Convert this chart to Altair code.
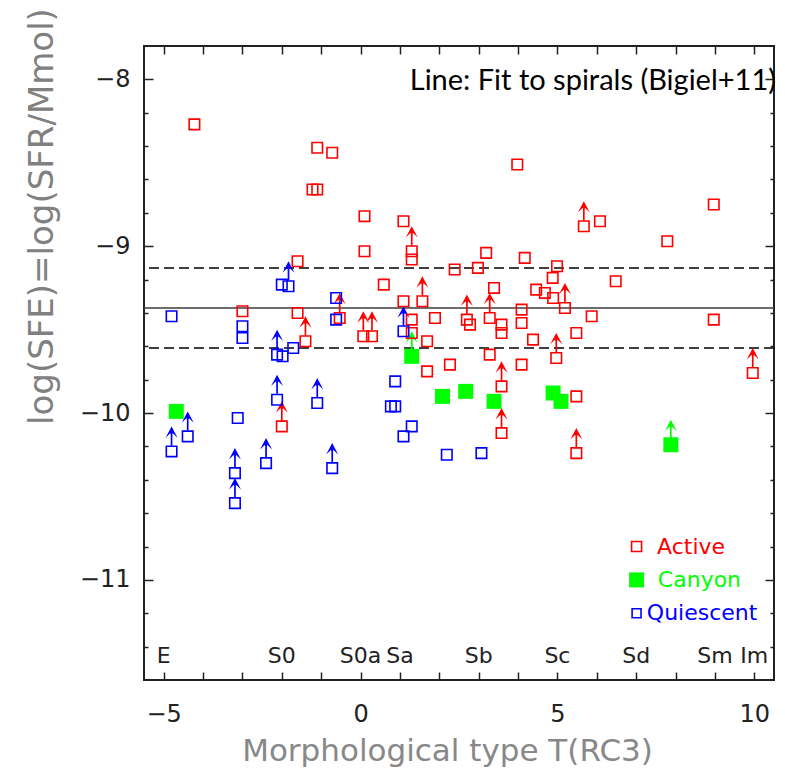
import altair as alt
import pandas as pd

# ---- data ----
act_x = [-4.22, -1.10, -0.72, -1.22, -1.10, 0.10, 1.09, 1.30, 1.30, 0.10, -1.60, 2.39, 0.59, 1.57,
         1.09, -3.00, -1.60, -0.53, 0.07, 0.29, -1.40, 1.89, 1.30, 1.30, 1.69, 2.70, 2.78, 1.69,
         2.27, -2.00, 3.98, 5.67, 6.08, 8.97, 7.79, 3.19, 4.17, 2.98, 4.99, 4.88, 6.48, 3.39,
         4.46, 4.68, 4.89, 5.19, 3.28, 4.09, 4.09, 3.58, 3.58, 5.87, 8.97, 4.38, 5.48, 4.97,
         3.28, 9.96, 4.09, 3.58, 3.58, 5.48, 5.48]
act_y = [-8.27, -8.41, -8.44, -8.66, -8.66, -8.82, -8.85, -9.03, -9.08, -9.03, -9.09, -9.14, -9.23, -9.33,
         -9.33, -9.39, -9.40, -9.43, -9.54, -9.54, -9.57, -9.43, -9.44, -9.52, -9.57, -9.44, -9.47, -9.75,
         -9.71, -10.08, -8.51, -8.88, -8.85, -8.75, -8.97, -9.04, -9.07, -9.13, -9.12, -9.19, -9.21, -9.25,
         -9.26, -9.28, -9.31, -9.37, -9.43, -9.38, -9.46, -9.47, -9.52, -9.42, -9.44, -9.56, -9.52, -9.67,
         -9.65, -9.76, -9.71, -9.84, -10.12, -9.90, -10.24]
act_arrow = [0, 0, 0, 0, 0, 0, 0, 1, 0, 0, 0, 0, 0, 1,
             0, 0, 0, 1, 1, 1, 1, 0, 0, 0, 0, 1, 0, 0,
             0, 1, 0, 1, 0, 0, 0, 0, 0, 0, 0, 0, 0, 0,
             0, 0, 0, 1, 1, 0, 0, 0, 0, 0, 0, 0, 0, 1,
             0, 1, 0, 1, 1, 0, 1]

can_x = [-4.68, 1.30, 2.08, 2.67, 3.39, 4.89, 5.09, 7.88]
can_y = [-9.99, -9.66, -9.90, -9.87, -9.93, -9.88, -9.93, -10.19]
can_arrow = [0, 1, 0, 0, 0, 0, 0, 1]

qui_x = [-4.80, -3.00, -3.00, -2.00, -1.83, -2.12, -1.98, -1.71, -0.62, -0.62, 1.09, -4.80, -4.39,
         -3.12, -3.19, -3.19, -2.40, -2.12, -1.10, -0.72, 0.88, 0.77, 0.88, 1.30, 1.09, 2.19, 3.07]
qui_y = [-9.42, -9.48, -9.55, -9.23, -9.24, -9.65, -9.66, -9.61, -9.31, -9.44, -9.51, -10.23, -10.14,
         -10.03, -10.36, -10.54, -10.30, -9.92, -9.94, -10.33, -9.81, -9.96, -9.96, -10.08, -10.14, -10.25, -10.24]
qui_arrow = [0, 0, 0, 0, 1, 1, 0, 0, 0, 0, 1, 1, 1,
             0, 1, 1, 1, 1, 1, 1, 0, 0, 0, 0, 0, 0, 0]

categories = ["Active", "Canyon", "Quiescent"]
cat_colors = ["#ff0000", "#00ff00", "#0000ff"]

type_names = ["E", "S0", "S0a", "Sa", "Sb", "Sc", "Sd", "Sm", "Im"]
type_T = [-5, -2, 0, 1, 3, 5, 7, 9, 10]

fit_y = [-9.37]
fit_band_y = [-9.13, -9.61]

x_ticks = list(range(-5, 11))
y_major = [-8, -9, -10, -11]
y_minor = [-8.2, -8.4, -8.6, -8.8, -9.2, -9.4, -9.6, -9.8, -10.2, -10.4, -10.6, -10.8, -11.2, -11.4]

annotation = ["Line: Fit to spirals (Bigiel+11)"]
ann_x = [10.55]
ann_y = [-8.064]

leg_y = [-10.80, -11.00, -11.20]
leg_sym_x = [7.01, 7.01, 7.01]
leg_text_x = [7.53, 7.55, 7.27]

# ---- tables ----
rows = []
for c, xs_, ys_, ar in [("Active", act_x, act_y, act_arrow),
                        ("Canyon", can_x, can_y, can_arrow),
                        ("Quiescent", qui_x, qui_y, qui_arrow)]:
    for a, b, f in zip(xs_, ys_, ar):
        rows.append({"cat": c, "x": a, "y": b, "arrow": f})
df = pd.DataFrame(rows)

types_df = pd.DataFrame({"name": type_names, "T": type_T, "y": [-11.5] * len(type_T)})
fit_df = pd.DataFrame({"y": fit_y})
band_df = pd.DataFrame({"y": fit_band_y})
ann_df = pd.DataFrame({"t": annotation, "x": ann_x, "y": ann_y})
leg_df = pd.DataFrame({"cat": categories, "sx": leg_sym_x, "tx": leg_text_x, "y": leg_y})

XS = alt.Scale(domain=[-5.5, 10.5], nice=False, zero=False)
YS = alt.Scale(domain=[-11.6, -7.8], nice=False, zero=False)
CS = alt.Scale(domain=categories, range=cat_colors)
FONT = "DejaVu Sans"
AX = "#222222"

def xn(field="x"):
    return alt.X(f"{field}:Q", scale=XS, axis=None)

def yn(field="y"):
    return alt.Y(f"{field}:Q", scale=YS, axis=None)

col = alt.Color("cat:N", scale=CS, legend=None)

x_bottom = alt.Axis(orient="bottom", values=x_ticks, offset=-8, tickSize=8, domain=False, grid=False,
                    tickColor=AX, tickWidth=1.5,
                    labelExpr="datum.value % 5 === 0 ? datum.label : ''", labelOverlap=False,
                    labelFlush=False, labelBound=False,
                    labelFont=FONT, labelFontSize=24, labelColor=AX, labelBaseline="alphabetic",
                    labelPadding=41,
                    title="Morphological type T(RC3)", titleFont=FONT, titleFontSize=31,
                    titleFontWeight="normal", titleColor="#888888", titleX=303, titleY=88,
                    titleAlign="center", titleBaseline="alphabetic")
x_top = alt.Axis(orient="top", values=x_ticks, offset=-8, tickSize=8, domain=False, grid=False,
                 tickColor=AX, tickWidth=1.5, labels=False, title=None)
y_left = alt.Axis(orient="left", values=y_major, offset=-9, tickSize=9, domain=False, grid=False,
                  tickColor=AX, tickWidth=1.5, labelFont=FONT, labelFontSize=24, labelColor=AX,
                  labelPadding=14, labelBaseline="middle",
                  title="log(SFE)=log(SFR/Mmol)", titleFont=FONT, titleFontSize=34,
                  titleFontWeight="normal", titleColor="#808080", titleAngle=270,
                  titleX=-111, titleY=170, titleAlign="center", titleBaseline="middle")
y_left_minor = alt.Axis(orient="left", values=y_minor, offset=-4, tickSize=4, domain=False, grid=False,
                        tickColor=AX, tickWidth=1.5, labels=False, title=None)
y_right = alt.Axis(orient="right", values=y_major, offset=-9, tickSize=9, domain=False, grid=False,
                   tickColor=AX, tickWidth=1.5, labels=False, title=None)
y_right_minor = alt.Axis(orient="right", values=y_minor, offset=-4, tickSize=4, domain=False, grid=False,
                         tickColor=AX, tickWidth=1.5, labels=False, title=None)

base = alt.Chart(df)

fit_line = alt.Chart(fit_df).mark_rule(color="#3c3c3c", strokeWidth=1.6).encode(y=yn())
band_lines = alt.Chart(band_df).mark_rule(color="#000000", strokeWidth=1.5, strokeDash=[10, 5]).encode(y=yn())

arrows = base.transform_filter("datum.arrow == 1").transform_calculate(
    y_lo="datum.y + 0.035", y_hi="datum.y + 0.125"
).mark_rule(strokeWidth=1.7).encode(
    x=xn(), y=alt.Y("y_lo:Q", scale=YS, axis=y_right_minor), y2="y_hi:Q", color=col)

heads = base.transform_filter("datum.arrow == 1").transform_calculate(
    y_tip="datum.y + 0.15"
).mark_point(shape="M0,0L1,1.9L0.22,1.15L0,1.35L-0.22,1.15L-1,1.9Z", filled=True, size=144,
             opacity=1).encode(
    x=xn(), y=alt.Y("y_tip:Q", scale=YS, axis=y_left_minor), color=col)

open_sq = base.transform_filter("datum.cat != 'Canyon'").mark_point(
    shape="square", filled=False, size=110, strokeWidth=1.6, opacity=1).encode(
    x=alt.X("x:Q", scale=XS, axis=x_bottom), y=alt.Y("y:Q", scale=YS, axis=y_left), color=col)

can_sq = base.transform_filter("datum.cat == 'Canyon'").mark_point(
    shape="square", filled=True, size=225, opacity=1).encode(
    x=alt.X("x:Q", scale=XS, axis=x_top), y=alt.Y("y:Q", scale=YS, axis=y_right), color=col)

types = alt.Chart(types_df).mark_text(font=FONT, fontSize=22, color=AX, align="center",
                                      baseline="alphabetic").encode(
    x=xn("T"), y=yn(), text="name:N")

ann = alt.Chart(ann_df).mark_text(font="Lato", fontSize=29, color="#000000", align="right",
                                  baseline="alphabetic").encode(
    x=xn(), y=yn(), text="t:N")

leg_sym_open = alt.Chart(leg_df).transform_filter("datum.cat != 'Canyon'").mark_point(
    shape="square", filled=False, strokeWidth=1.6, opacity=1).encode(
    x=xn("sx"), y=yn(), color=col,
    size=alt.Size("cat:N", scale=alt.Scale(domain=["Active", "Quiescent"], range=[100, 80]), legend=None))
leg_sym_fill = alt.Chart(leg_df).transform_filter("datum.cat == 'Canyon'").mark_point(
    shape="square", filled=True, size=225, opacity=1).encode(x=xn("sx"), y=yn(), color=col)
leg_text = alt.Chart(leg_df).mark_text(font=FONT, fontSize=22, align="left", baseline="middle").encode(
    x=xn("tx"), y=yn(), text="cat:N", color=col)

chart = alt.layer(
    fit_line, band_lines, arrows, heads, open_sq, can_sq, types, ann,
    leg_sym_open, leg_sym_fill, leg_text
).resolve_axis(x="independent", y="independent").resolve_scale(
    x="shared", y="shared", color="shared", size="independent"
).properties(
    width=630, height=634,
    padding={"left": 144, "top": 46, "right": 11, "bottom": 100},
    autosize=alt.AutoSizeParams(type="none"),
    background="white"
).configure_view(stroke=AX, strokeWidth=2)

chart.save("out.html", embed_options={"renderer": "svg", "actions": False})
